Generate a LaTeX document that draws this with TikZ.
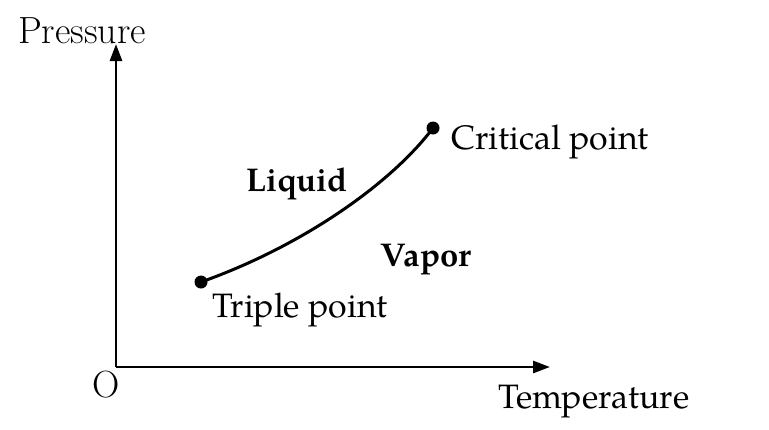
\documentclass[tikz,border=0pt]{standalone}
\usepackage{fontspec}
\newfontfamily\pal{TeX Gyre Pagella}
\usetikzlibrary{arrows.meta}
\tikzset{
  axis/.style={line width=2.8bp,-{Triangle[length=17bp,width=12bp]}},
  curve/.style={line width=3bp},
  dot/.style={circle,fill=black,inner sep=0pt,minimum size=13bp},
  lab/.style={font=\pal\fontsize{34}{40}\selectfont,inner sep=0pt},
  blab/.style={font=\pal\bfseries\fontsize{33}{39}\selectfont,inner sep=0pt},
  cmlab/.style={font=\fontsize{38}{44}\selectfont,inner sep=0pt}
}
\begin{document}
\begin{tikzpicture}[x=1bp,y=-1bp]
\useasboundingbox (0,0) rectangle (769,429);
\coordinate (O) at (116,367);
\coordinate (ytip) at (116,44);
\coordinate (xtip) at (550,367);
\draw[axis] (O) -- (ytip);
\draw[axis] (O) -- (xtip);
\node[dot] (tp) at (201,282) {};
\node[dot] (cp) at (433,128) {};
\draw[curve] (tp.center) .. controls (300,247) and (390,185) .. (cp.center);
\node[cmlab] (press) at (82,31) {Pressure};
\node[cmlab] (olab) at (106,385) {O};
\node[lab] (temp) at (594,402) {Temperature};
\node[lab] (tpl) at (300,310) {Triple point};
\node[lab] (cpl) at (550,142) {Critical point};
\node[blab] (liq) at (297,184) {Liquid};
\node[blab] (vap) at (426,260) {Vapor};
\end{tikzpicture}
\end{document}
